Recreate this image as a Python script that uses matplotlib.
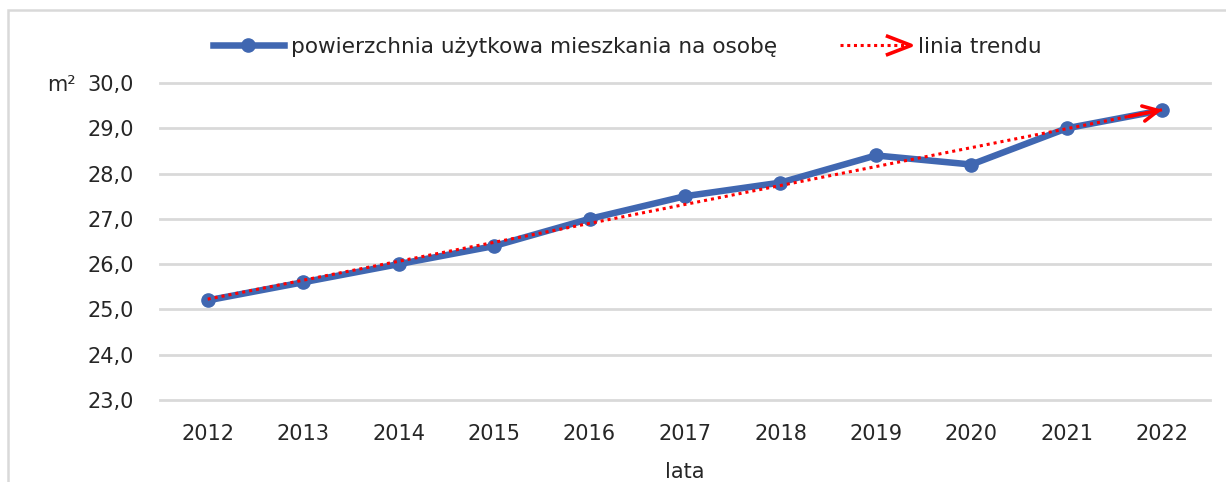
import matplotlib.pyplot as plt
from matplotlib.lines import Line2D
from matplotlib.legend_handler import HandlerBase
from matplotlib.patches import Rectangle
import numpy as np

# -- Data -- #
years = ['2012', '2013', '2014', '2015', '2016', '2017', '2018', '2019', '2020', '2021', '2022']
area_per_person = [25.2, 25.6, 26.0, 26.4, 27.0, 27.5, 27.8, 28.4, 28.2, 29.0, 29.4]
y_ticks = [23.0, 24.0, 25.0, 26.0, 27.0, 28.0, 29.0, 30.0]

BLUE = '#4067b1'
RED = '#ff0000'
GRID = '#d9d9d9'
TXT = '#262626'
FS = 15

plt.rcParams['font.family'] = ['DejaVu Sans']


# -- Legend handler: dotted line with open arrow head -- #
class HandlerArrow(HandlerBase):
	def create_artists(self, legend, orig_handle, xdescent, ydescent,
					   width, height, fontsize, trans):
		y = height / 2 - ydescent
		x0, x1 = -xdescent, width - xdescent
		line = Line2D([x0, x1], [y, y], color=RED, lw=2.2, linestyle=(0, (1, 1.2)),
					  transform=trans)
		d = 0.33 * width
		h = 0.6 * height
		head = Line2D([x1 - d, x1, x1 - d], [y + h, y, y - h], color=RED, lw=2.6,
					  transform=trans)
		return [line, head]


x = np.arange(len(years))
coef = np.polyfit(x, area_per_person, 1)
trend = np.polyval(coef, x)

fig = plt.figure(figsize=(12.26, 4.82), dpi=100)
ax = fig.add_axes([160 / 1226, 1 - 400 / 482, 1050 / 1226, 317 / 482])

ax.plot(x, area_per_person, color=BLUE, lw=4.7, marker='o', markersize=9.5,
		solid_capstyle='round', zorder=3)
ax.plot(x, trend, color=RED, lw=2.2, linestyle=(0, (1, 1.3)), zorder=4)
ax.annotate('', xy=(x[-1], trend[-1]), xytext=(x[-1] - 0.35, trend[-1] - 0.35 * coef[0]),
			arrowprops=dict(arrowstyle='->,head_length=1.1,head_width=0.55', color=RED, lw=2.6,
							shrinkA=0, shrinkB=0), zorder=5)

ax.set_xlim(-0.5, len(years) - 0.5)
ax.set_ylim(23, 30)
ax.set_xticks(x)
ax.set_xticklabels(years)
ax.set_yticks(y_ticks)
ax.set_yticklabels([('%.1f' % v).replace('.', ',') for v in y_ticks])
ax.tick_params(length=0, labelsize=FS, labelcolor=TXT)
ax.tick_params(axis='y', pad=19)
ax.tick_params(axis='x', pad=17)
ax.grid(axis='y', color=GRID, lw=2)
for gl in ax.get_ygridlines():
	gl.set_clip_on(False)
ax.set_axisbelow(True)
for s in ax.spines.values():
	s.set_visible(False)

ax.set_xlabel('lata', fontsize=FS, color=TXT, labelpad=13)
fig.text(47 / 1226, 1 - 85 / 482, 'm²', fontsize=FS, color=TXT, va='center', ha='left')

# frame around chart
fig.patches.append(Rectangle((8 / 1226, -0.1), 1.2, 1.1 - 10 / 482, transform=fig.transFigure,
							 fill=False, edgecolor=GRID, lw=1.8))

handles = [Line2D([], [], color=BLUE, lw=4.7, marker='o', markersize=9.5),
		   Line2D([], [], color=RED)]
labels = ['powierzchnia użytkowa mieszkania na osobę', 'linia trendu']
leg = fig.legend(handles, labels, loc='center', bbox_to_anchor=(627 / 1226, 1 - 47 / 482),
				 ncol=2, frameon=False, fontsize=15.6, handlelength=3.3, handletextpad=0.3,
				 columnspacing=2.9, handler_map={handles[1]: HandlerArrow()})
for t in leg.get_texts():
	t.set_color(TXT)

fig.savefig('out.png', dpi=100)
